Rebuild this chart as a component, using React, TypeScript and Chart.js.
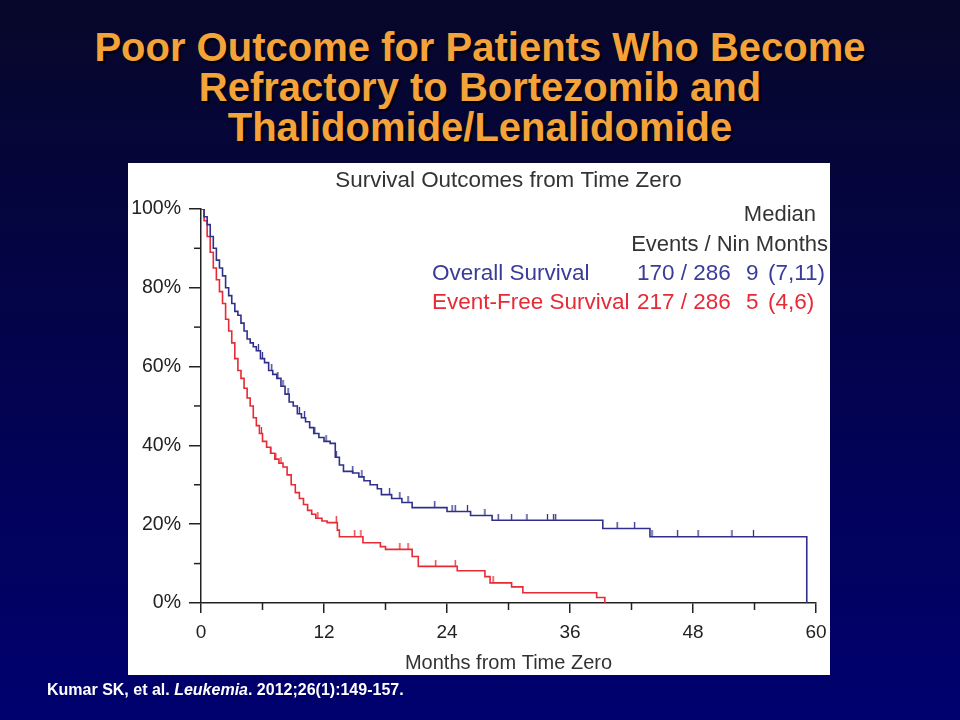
import React, { useEffect, useRef } from 'react';
import { Chart, registerables } from 'chart.js';

Chart.register(...registerables);

// ---- Data ----
const osTimes = [0, 0.3, 0.6, 0.9, 1.2, 1.5, 1.8, 2.1, 2.4, 2.7, 3.0, 3.3, 3.6, 3.9, 4.2, 4.5, 4.8, 5.1, 5.4, 5.8, 6.2, 6.6, 7.0, 7.4, 7.8, 8.2, 8.6, 9.0, 9.4, 9.8, 10.2, 10.6, 11.0, 11.5, 12.0, 12.6, 13.1, 13.5, 13.9, 14.8, 15.4, 15.9, 16.5, 17.2, 17.6, 18.6, 19.6, 20.6, 24.0, 26.3, 28.4, 39.2, 43.8, 59.1];
const osSurv = [100, 98, 96, 93, 90, 87, 85, 83, 80, 78, 76, 74, 73, 71, 69, 67, 66, 65, 64, 62, 61, 59, 58, 57, 55, 53, 51, 50, 48, 47, 46, 44.5, 43, 42, 41, 40.5, 37, 35, 33.4, 33, 32, 31, 30, 29, 27.5, 26.5, 25.5, 24.2, 23.2, 22.2, 21.0, 18.9, 16.8, 0];

const efsTimes = [0, 0.3, 0.6, 0.9, 1.2, 1.5, 1.8, 2.1, 2.4, 2.7, 3.0, 3.3, 3.6, 3.9, 4.2, 4.5, 4.8, 5.1, 5.4, 5.7, 6.0, 6.4, 6.8, 7.2, 7.6, 8.0, 8.4, 8.8, 9.2, 9.6, 10.0, 10.4, 10.8, 11.2, 11.8, 12.3, 13.3, 13.5, 15.8, 17.5, 18.0, 20.6, 21.2, 25.0, 27.7, 28.2, 30.3, 31.4, 38.6, 39.4];
const efsSurv = [100, 97, 93, 89, 85, 82, 79, 76, 72, 69, 66, 62, 59, 57, 54.5, 52, 50, 47, 45, 43, 41, 39.5, 38, 36.5, 35.5, 34.5, 32.5, 30, 28, 26.5, 25, 23.5, 22.5, 21.5, 20.8, 20.4, 18.5, 16.8, 15.3, 14.3, 13.6, 11.8, 9.3, 8.2, 6.7, 5.1, 4.1, 2.6, 1.4, 0];

const osCensorTimes = [5.6, 6.0, 6.9, 7.5, 8.0, 8.5, 9.6, 10.1, 11.1, 12.2, 13.2, 14.8, 15.7, 18.4, 19.4, 20.2, 22.8, 24.5, 24.8, 26.0, 27.7, 29.0, 30.3, 31.8, 33.8, 34.4, 34.6, 40.6, 42.3, 44.0, 46.5, 48.5, 51.8, 53.9];
const efsCensorTimes = [5.9, 6.8, 7.3, 7.8, 11.4, 13.2, 15.0, 15.6, 19.4, 20.2, 22.9, 24.8, 28.5];

const xMajorTicks = [0, 12, 24, 36, 48, 60];
const xMinorTicks = [6, 18, 30, 42, 54];
const yMinorTicks = [10, 30, 50, 70, 90];

const seriesNames = ['Overall Survival', 'Event-Free Survival'];
const eventsN = ['170 / 286', '217 / 286'];
const medians = ['9', '5'];
const medianCIs = ['(7,11)', '(4,6)'];

const BLUE = '#30308c';
const BLUE_TEXT = '#3a3c98';
const RED = '#e62a36';
const FONT = "'Liberation Sans', Arial, Helvetica, sans-serif";

function kmAt(times: number[], surv: number[], t: number) {
  let v = surv[0];
  for (let i = 0; i < times.length; i++) if (times[i] <= t) v = surv[i];
  return v;
}

function tickImage(color: string) {
  const c = document.createElement('canvas');
  c.width = 3;
  c.height = 13;
  const g = c.getContext('2d')!;
  g.strokeStyle = color;
  g.lineWidth = 1.3;
  g.beginPath();
  g.moveTo(1.5, 0);
  g.lineTo(1.5, 6.5);
  g.stroke();
  return c;
}

export default function App() {
  const ref = useRef<HTMLCanvasElement | null>(null);

  useEffect(() => {
    if (!ref.current) return;

    const minorTicks = {
      id: 'minorTicks',
      afterDraw(chart: any) {
        const { ctx, chartArea } = chart;
        const xs = chart.scales.x;
        const ys = chart.scales.y;
        ctx.save();
        ctx.strokeStyle = '#222';
        ctx.lineWidth = 1.5;
        xMinorTicks.forEach((v) => {
          const px = xs.getPixelForValue(v);
          ctx.beginPath();
          ctx.moveTo(px, chartArea.bottom);
          ctx.lineTo(px, chartArea.bottom + 7);
          ctx.stroke();
        });
        yMinorTicks.forEach((v) => {
          const py = ys.getPixelForValue(v);
          ctx.beginPath();
          ctx.moveTo(chartArea.left, py);
          ctx.lineTo(chartArea.left - 7, py);
          ctx.stroke();
        });
        ctx.restore();
      },
    };

    const legendText = {
      id: 'legendText',
      afterDraw(chart: any) {
        const { ctx } = chart;
        ctx.save();
        ctx.font = `22px ${FONT}`;
        ctx.textBaseline = 'alphabetic';
        ctx.fillStyle = '#333';
        ctx.textAlign = 'right';
        ctx.fillText('Median', 816, 221);
        ctx.fillText('Events / Nin Months', 828, 251);
        ctx.textAlign = 'left';
        ctx.font = `22.5px ${FONT}`;
        const colors = [BLUE_TEXT, RED];
        const rows = [280, 309];
        for (let i = 0; i < 2; i++) {
          ctx.fillStyle = colors[i];
          ctx.fillText(seriesNames[i], 432, rows[i]);
          ctx.fillText(eventsN[i], 637, rows[i]);
          ctx.fillText(medians[i], 746, rows[i]);
          ctx.fillText(medianCIs[i], 768, rows[i]);
        }
        ctx.restore();
      },
    };

    const chart = new Chart(ref.current, {
      type: 'scatter',
      data: {
        datasets: [
          {
            label: seriesNames[0],
            data: osTimes.map((t, i) => ({ x: t, y: osSurv[i] })),
            showLine: true,
            stepped: 'before',
            borderColor: BLUE,
            borderWidth: 1.6,
            pointRadius: 0,
            fill: false,
          },
          {
            label: seriesNames[1],
            data: efsTimes.map((t, i) => ({ x: t, y: efsSurv[i] })),
            showLine: true,
            stepped: 'before',
            borderColor: RED,
            borderWidth: 1.6,
            pointRadius: 0,
            fill: false,
          },
          {
            label: 'OS censored',
            data: osCensorTimes.map((t) => ({ x: t, y: kmAt(osTimes, osSurv, t) })),
            showLine: false,
            pointStyle: tickImage(BLUE),
            pointRadius: 4,
          },
          {
            label: 'EFS censored',
            data: efsCensorTimes.map((t) => ({ x: t, y: kmAt(efsTimes, efsSurv, t) })),
            showLine: false,
            pointStyle: tickImage(RED),
            pointRadius: 4,
          },
        ],
      } as any,
      options: {
        animation: false,
        responsive: false,
        devicePixelRatio: 1,
        layout: { padding: { left: 128, right: 144, top: 163, bottom: 45 } },
        plugins: {
          legend: { display: false },
          tooltip: { enabled: false },
          title: {
            display: true,
            fullSize: false,
            text: 'Survival Outcomes from Time Zero',
            color: '#333',
            font: { family: FONT, size: 22.4, weight: 'normal' },
            padding: { top: 4, bottom: 15 },
          },
        },
        scales: {
          x: {
            type: 'linear',
            min: 0,
            max: 60,
            afterBuildTicks: (s: any) => {
              s.ticks = xMajorTicks.map((v) => ({ value: v }));
            },
            ticks: {
              color: '#222',
              font: { family: FONT, size: 19 },
              padding: 8,
              maxRotation: 0,
            },
            grid: { drawOnChartArea: false, drawTicks: true, tickLength: 10, color: '#222', lineWidth: 1.5 },
            border: { display: true, color: '#222', width: 1.5 },
            title: {
              display: true,
              text: 'Months from Time Zero',
              color: '#333',
              font: { family: FONT, size: 20 },
              padding: { top: 0, bottom: 0 },
            },
            afterFit: (s: any) => {
              s.height = 72;
            },
          },
          y: {
            type: 'linear',
            min: 0,
            max: 100,
            ticks: {
              stepSize: 20,
              color: '#222',
              font: { family: FONT, size: 19.5 },
              padding: 8,
              callback: (v: any) => `${v}%`,
            },
            grid: { drawOnChartArea: false, drawTicks: true, tickLength: 12, color: '#222', lineWidth: 1.5 },
            border: { display: true, color: '#222', width: 1.5 },
            afterFit: (s: any) => {
              s.width = 73;
            },
          },
        },
      } as any,
      plugins: [minorTicks, legendText],
    });

    return () => chart.destroy();
  }, []);

  return (
    <div
      style={{
        position: 'fixed',
        left: 0,
        top: 0,
        width: 960,
        height: 720,
        overflow: 'hidden',
        background: 'linear-gradient(to bottom, #07072a 0%, #03034a 45%, #00006f 100%)',
        fontFamily: FONT,
      }}
    >
      <div
        style={{
          position: 'absolute',
          left: 0,
          top: 27,
          width: 960,
          textAlign: 'center',
          color: '#F3A33A',
          fontWeight: 'bold',
          fontSize: 40,
          lineHeight: '40px',
          textShadow: '2px 2px 1px #000',
        }}
      >
        Poor Outcome for Patients Who Become
        <br />
        Refractory to Bortezomib and
        <br />
        Thalidomide/Lenalidomide
      </div>
      <div
        style={{
          position: 'absolute',
          left: 128,
          top: 163,
          width: 702,
          height: 512,
          background: '#ffffff',
        }}
      />
      <canvas ref={ref} width={960} height={720} style={{ position: 'absolute', left: 0, top: 0, width: 960, height: 720 }} />
      <div
        style={{
          position: 'absolute',
          left: 47,
          top: 681,
          color: '#ffffff',
          fontWeight: 'bold',
          fontSize: 16,
          lineHeight: '18px',
          whiteSpace: 'nowrap',
        }}
      >
        Kumar SK, et al. <i>Leukemia</i>. 2012;26(1):149-157.
      </div>
    </div>
  );
}
